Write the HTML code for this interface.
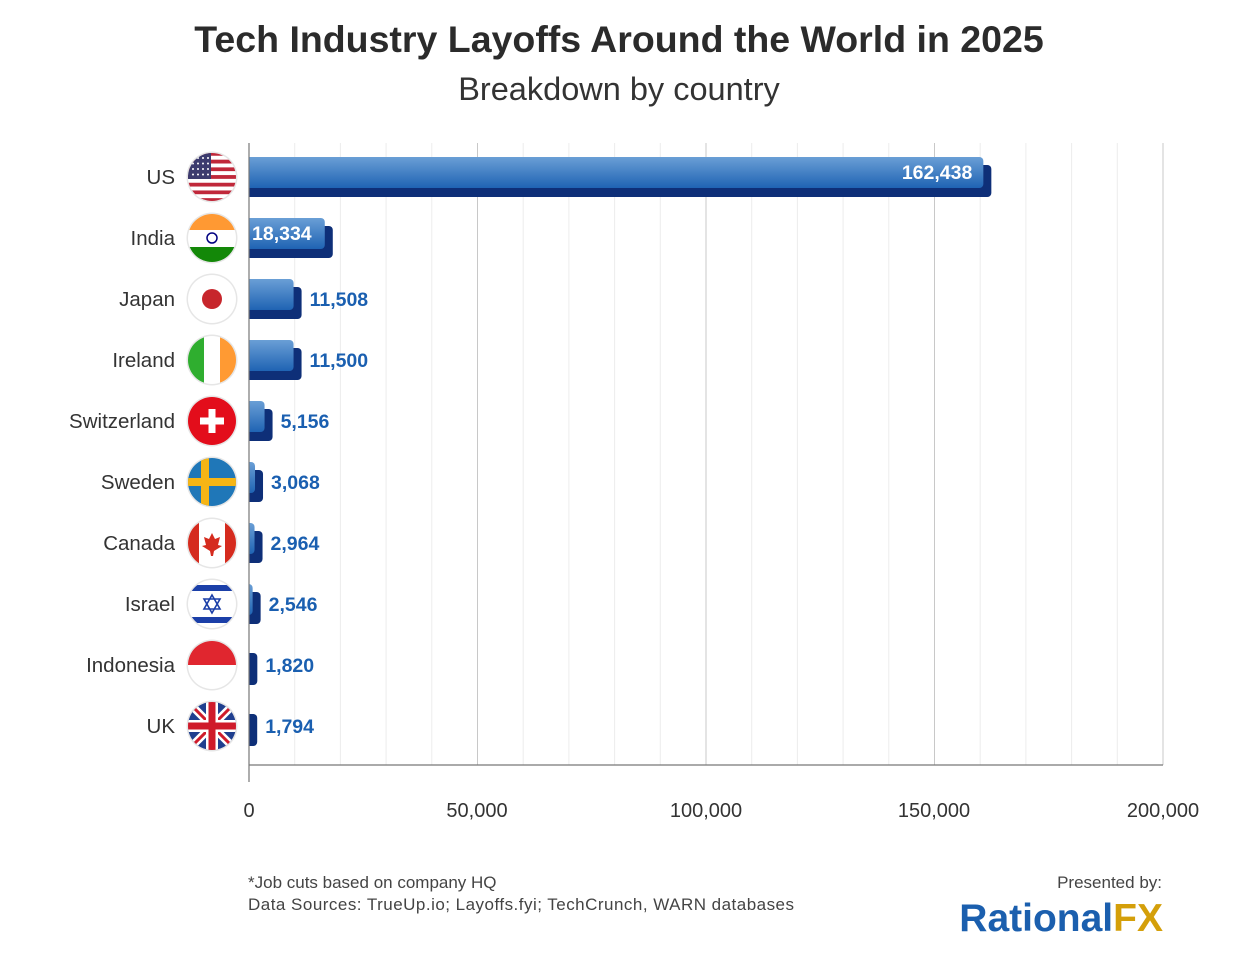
<!DOCTYPE html>
<html><head><meta charset="utf-8"><style>
body{margin:0;background:#fff;width:1240px;height:959px;overflow:hidden;font-family:"Liberation Sans",sans-serif}
</style></head><body>
<svg id="s" width="1240" height="959" xmlns="http://www.w3.org/2000/svg" font-family="Liberation Sans, sans-serif">
<defs>
<linearGradient id="g" x1="0" y1="0" x2="0" y2="1"><stop offset="0" stop-color="#6a9fd6"/><stop offset="1" stop-color="#1f63b3"/></linearGradient>
<clipPath id="c"><circle r="24"/></clipPath>
</defs>
<text x="619" y="52" text-anchor="middle" font-size="37.5" font-weight="bold" fill="#2b2b2b">Tech Industry Layoffs Around the World in 2025</text>
<text x="619" y="100" text-anchor="middle" font-size="32.5" fill="#333">Breakdown by country</text>
<g id="grid"></g>
<g id="bars"></g>
<line x1="249" y1="765" x2="1163" y2="765" stroke="#777" stroke-width="1.2"/>
<line x1="249" y1="143" x2="249" y2="782" stroke="#777" stroke-width="1.2"/>
<g font-size="20" fill="#333" text-anchor="middle">
<text x="249" y="817">0</text><text x="477" y="817">50,000</text><text x="706" y="817">100,000</text><text x="934" y="817">150,000</text><text x="1163" y="817">200,000</text>
</g>
<text x="248" y="888" font-size="17" fill="#444">*Job cuts based on company HQ</text>
<text x="248" y="910" font-size="17" fill="#444" textLength="546">Data Sources: TrueUp.io; Layoffs.fyi; TechCrunch, WARN databases</text>
<text x="1162" y="888" font-size="17" fill="#444" text-anchor="end">Presented by:</text>
<text x="1163" y="931" font-size="39" font-weight="bold" text-anchor="end"><tspan fill="#1b5fae">Rational</tspan><tspan fill="#d49f0a">FX</tspan></text>
</svg>
<script>
const NS="http://www.w3.org/2000/svg",grid=document.getElementById('grid'),bars=document.getElementById('bars');
function el(t,a,p){const e=document.createElementNS(NS,t);for(const k in a)e.setAttribute(k,a[k]);(p||bars).appendChild(e);return e;}
for(let v=10000;v<=200000;v+=10000){const x=249+v*0.00457;el('line',{x1:x,y1:143,x2:x,y2:765,stroke:v%50000?'#ececec':'#c8c8c8','stroke-width':1},grid);}
const d=[["US",162438],["India",18334],["Japan",11508],["Ireland",11500],["Switzerland",5156],["Sweden",3068],["Canada",2964],["Israel",2546],["Indonesia",1820],["UK",1794]];
d.forEach(([n,v],i)=>{
 const c=177+61*i,end=249+v*0.00457;
 el('text',{x:175,y:c+7,'text-anchor':'end','font-size':20.5,fill:'#333'}).textContent=n;
 const g=el('g',{transform:`translate(212,${c})`});
 el('circle',{r:25.5,fill:'#e6e6e6'},g);
 const f=el('g',{'clip-path':'url(#c)'},g);
 const R=(x,y,w,h,col)=>el('rect',{x,y,width:w,height:h,fill:col},f);
 if(n=="US"){for(let k=0;k<13;k++)R(-25,-25+k*50/13,50,50/13,k%2?'#fff':'#c0283a');R(-25,-25,24,27,'#3c3b6e');for(let a=0;a<4;a++)for(let b=0;b<4;b++)el('circle',{cx:-19+b*5,cy:-19+a*5.5,r:1,fill:'#fff'},f);}
 else if(n=="India"){R(-25,-25,50,17,'#ff9933');R(-25,-8,50,17,'#fff');R(-25,9,50,16,'#138808');el('circle',{r:5,fill:'none',stroke:'#000080','stroke-width':1.5},f);}
 else if(n=="Japan"){R(-25,-25,50,50,'#fff');el('circle',{r:10,fill:'#c7262c'},f);}
 else if(n=="Ireland"){R(-25,-25,17,50,'#2fae2f');R(-8,-25,16,50,'#fff');R(8,-25,17,50,'#ff9a33');}
 else if(n=="Switzerland"){R(-25,-25,50,50,'#e30d1b');R(-3.5,-12,7,24,'#fff');R(-12,-3.5,24,7,'#fff');}
 else if(n=="Sweden"){R(-25,-25,50,50,'#1f77b8');R(-11,-25,8,50,'#f6b515');R(-25,-4,50,8,'#f6b515');}
 else if(n=="Canada"){R(-25,-25,50,50,'#fff');R(-25,-25,12,50,'#d52b1e');R(13,-25,12,50,'#d52b1e');el('path',{d:'M0,-10 L3,-4 L8,-6 L6,2 L10,3 L2,8 L1,13 L-1,13 L-2,8 L-10,3 L-6,2 L-8,-6 L-3,-4Z',fill:'#d52b1e'},f);}
 else if(n=="Israel"){R(-25,-25,50,50,'#fff');R(-25,-19,50,6,'#1b3fa8');R(-25,13,50,6,'#1b3fa8');el('path',{d:'M0,-9 L8,5 L-8,5Z M0,9 L8,-5 L-8,-5Z',fill:'none',stroke:'#1b3fa8','stroke-width':1.6},f);}
 else if(n=="Indonesia"){R(-25,-25,50,25,'#e0262f');R(-25,0,50,25,'#fff');}
 else if(n=="UK"){R(-25,-25,50,50,'#1f3f8f');el('path',{d:'M-25,-25 L25,25 M25,-25 L-25,25',stroke:'#fff','stroke-width':8},f);el('path',{d:'M-25,-25 L25,25 M25,-25 L-25,25',stroke:'#cf1b2b','stroke-width':3},f);R(-25,-6,50,12,'#fff');R(-6,-25,12,50,'#fff');R(-25,-3.5,50,7,'#cf1b2b');R(-3.5,-25,7,50,'#cf1b2b');}
 el('rect',{x:240,y:c-12,width:end-240,height:32,rx:4,fill:'#0e2f78'});
 const fw=end-8-240; if(fw>0)el('rect',{x:240,y:c-20,width:fw,height:31,rx:4,fill:'url(#g)'});
 el('rect',{x:240,y:c-22,width:8.5,height:45,fill:'#fff'});
 const lbl=v.toLocaleString('en-US');
 if(i==0)el('text',{x:end-19,y:c+2,'text-anchor':'end','font-size':19.5,'font-weight':'bold',fill:'#fff'}).textContent=lbl;
 else if(i==1)el('text',{x:252,y:c+2,'font-size':19.5,'font-weight':'bold',fill:'#fff'}).textContent=lbl;
 else el('text',{x:end+8,y:c+7,'font-size':19.5,'font-weight':'bold',fill:'#1a5fb0'}).textContent=lbl;
});
</script>
</body></html>
